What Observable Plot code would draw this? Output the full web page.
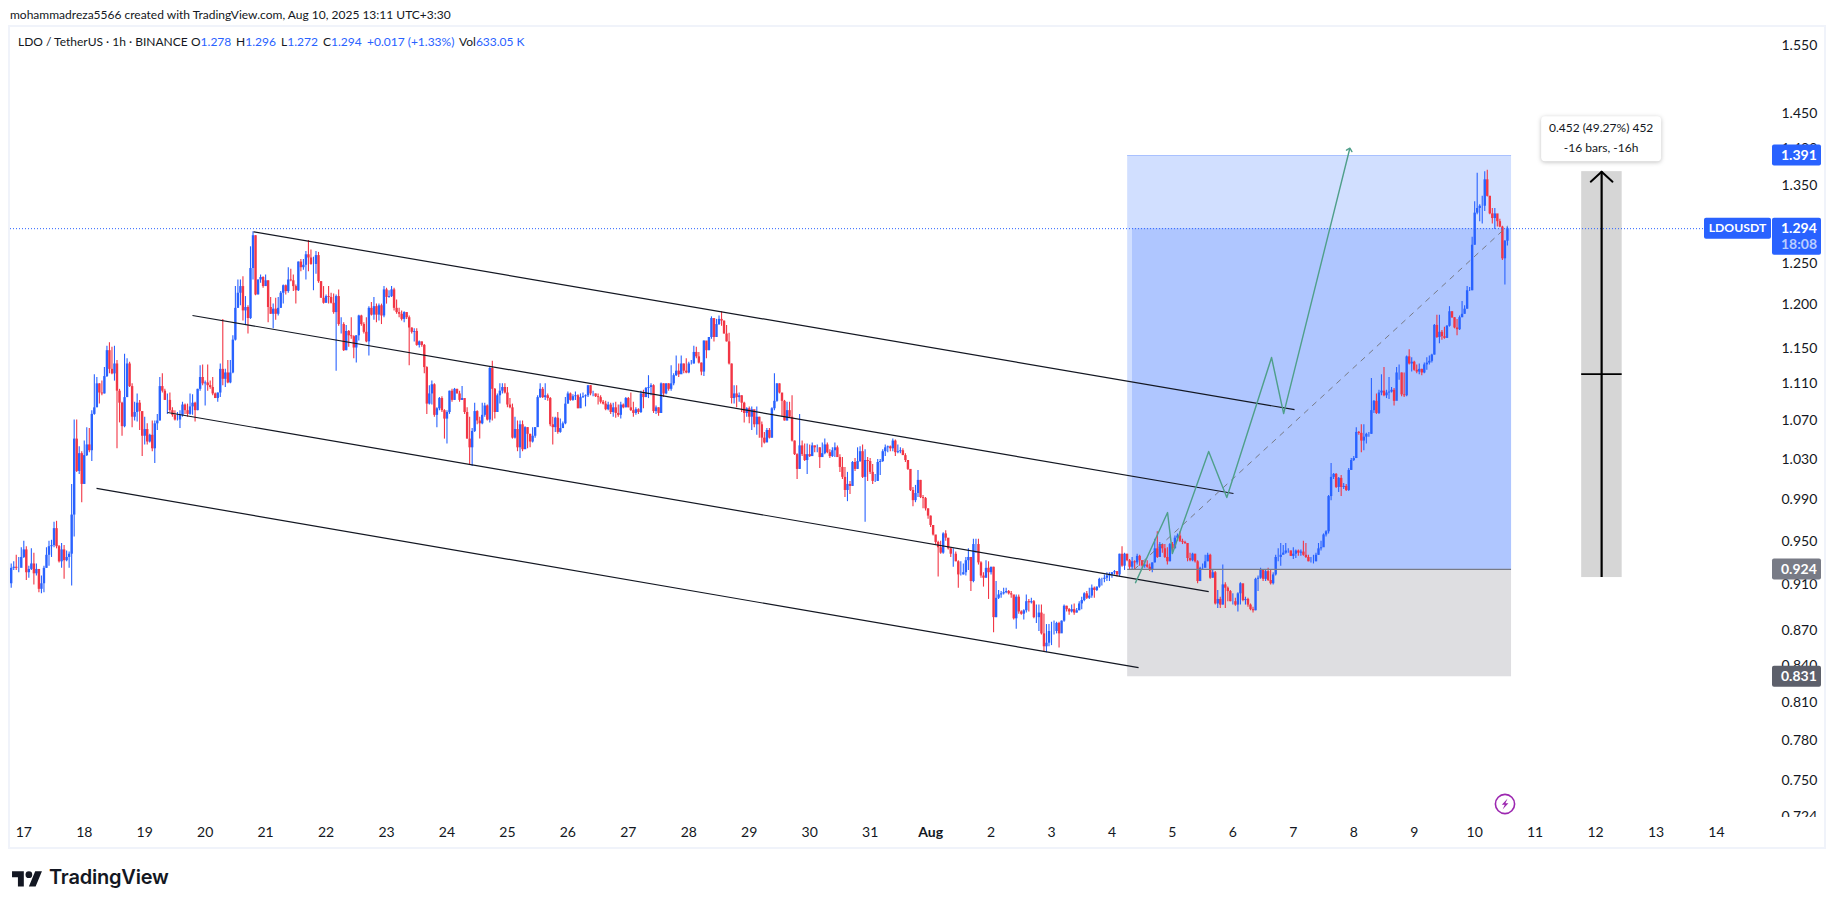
<!DOCTYPE html>
<html><head><meta charset="utf-8">
<script src="https://cdn.jsdelivr.net/npm/d3@7"></script>
<script src="https://cdn.jsdelivr.net/npm/@observablehq/plot@0.6"></script>
<style>
html,body{margin:0;padding:0;background:#fff;overflow:hidden}
#page{position:relative;width:1835px;height:909px;font-family:Lato,"Noto Sans",sans-serif;color:#131722;overflow:hidden}
#pane{position:absolute;left:8px;top:25px;width:1814px;height:820px;border:2px solid #f0f3fa}
#chart{position:absolute;left:0;top:0}
#chart svg{display:block}
.hd{position:absolute;white-space:nowrap}
.lg{position:absolute;top:34px;font-size:12px;white-space:nowrap}
.lg b{font-weight:400;color:#2962ff}
</style></head><body>
<div id="page">
<div id="pane"></div>
<div id="chart"></div>
<div class="hd" style="left:10px;top:7px;font-size:12px">mohammadreza5566 created with TradingView.com, Aug 10, 2025 13:11 UTC+3:30</div>
<div class="lg" style="left:18px">LDO / TetherUS · 1h · BINANCE</div>
<div class="lg" style="left:191px">O<b>1.278</b></div>
<div class="lg" style="left:236px">H<b>1.296</b></div>
<div class="lg" style="left:281px">L<b>1.272</b></div>
<div class="lg" style="left:323px">C<b>1.294</b></div>
<div class="lg" style="left:367px"><b>+0.017 (+1.33%)</b></div>
<div class="lg" style="left:459px">Vol<b>633.05 K</b></div>
<svg style="position:absolute;left:1494px;top:793px" width="22" height="22" viewBox="0 0 22 22"><circle cx="11" cy="11" r="9.6" fill="#fff" stroke="#9c27b0" stroke-width="1.6"/><path d="M13.6 5.6 7.8 11.7h3L8.6 16.4l5.8-6.1h-3z" fill="#9c27b0"/></svg>
<svg style="position:absolute;left:12px;top:867.6px" width="30.4" height="23.6" viewBox="0 0 36 28"><path d="M14 22H7V11H0V4h14v18zM28 22h-8l7.5-18h8L28 22z" fill="#131722"/><circle cx="20" cy="8" r="4" fill="#131722"/></svg>
<div class="hd" style="left:49px;top:865px;font-family:Inter,sans-serif;font-weight:600;font-size:20px;letter-spacing:-.2px">TradingView</div>
</div>
<script>
// Hourly candles, prices in thousandths of USDT, one row per calendar day (Jul 16 … Aug 10)
const firstOpen = 911;
const closes = [
925,926,925,925,935,
942,921,924,929,920,924,906,911,925,937,945,946,962,945,931,942,932,935,938,975,1051,1018,1036,1005,
1034,1045,1039,1077,1084,1110,1100,1099,1118,1147,1126,1121,1132,1102,1089,1064,1095,1132,1107,1074,1079,1089,1080,1054,
1061,1048,1055,1041,1067,1070,1107,1102,1092,1092,1081,1076,1071,1071,1076,1087,1081,1077,1085,1089,1081,1104,1117,1110,
1111,1108,1106,1099,1094,1100,1126,1115,1122,1111,1122,1159,1196,1214,1222,1193,1197,1184,1244,1285,1212,1230,1233,1222,
1229,1197,1189,1195,1189,1196,1214,1223,1216,1230,1229,1222,1217,1252,1245,1248,1261,1257,1249,1249,1260,1228,1208,1202,
1210,1209,1202,1191,1210,1177,1177,1147,1169,1164,1163,1150,1164,1187,1177,1168,1157,1196,1188,1198,1188,1199,1187,1218,
1209,1210,1218,1196,1191,1189,1183,1191,1185,1173,1168,1169,1153,1157,1153,1128,1088,1099,1109,1076,1083,1094,1081,1072,
1079,1102,1092,1104,1099,1092,1094,1079,1051,1042,1059,1080,1070,1067,1076,1086,1071,1127,1104,1079,1097,1102,1106,1100,
1087,1084,1052,1061,1042,1066,1040,1063,1056,1048,1054,1063,1095,1104,1095,1097,1094,1066,1063,1073,1058,1062,1067,1088,
1099,1092,1096,1097,1083,1095,1096,1097,1108,1099,1099,1096,1095,1090,1088,1082,1087,1079,1084,1078,1076,1087,1084,1094,
1084,1081,1078,1082,1079,1099,1095,1105,1106,1108,1080,1084,1078,1110,1099,1110,1104,1110,1119,1124,1120,1132,1124,1122,
1132,1132,1145,1140,1133,1123,1158,1147,1162,1184,1162,1177,1183,1181,1166,1157,1132,1094,1099,1095,1097,1089,1078,1083,
1074,1082,1066,1074,1066,1052,1047,1060,1052,1083,1091,1110,1100,1091,1070,1081,1074,1049,1035,1020,1044,1035,1029,1035,
1033,1044,1042,1042,1032,1036,1045,1037,1033,1039,1042,1032,1022,1012,999,1005,1003,1027,1020,1028,1038,1012,1029,1028,
1017,1008,1008,1027,1028,1038,1042,1043,1041,1049,1037,1038,1039,1034,1029,1020,999,989,996,1009,992,991,981,974,
965,956,949,944,939,957,953,943,938,938,931,919,919,921,932,935,913,947,947,930,918,916,925,921,
926,881,898,901,902,903,904,902,901,880,899,886,884,887,895,894,895,881,881,885,867,856,859,869,
869,869,876,867,878,891,888,886,888,885,887,893,896,902,898,900,907,905,908,915,915,916,918,919,
921,922,919,938,927,938,932,926,931,930,936,932,927,928,926,923,930,943,935,947,943,935,931,947,
943,953,955,950,949,948,934,932,938,931,913,925,925,931,937,916,921,893,897,892,910,907,904,895,
895,892,902,911,896,897,892,888,887,915,916,923,915,922,914,911,919,935,935,937,939,941,941,936,
938,941,939,940,937,935,931,931,931,937,943,944,956,959,993,1012,1015,1002,1011,1002,1003,999,1019,1029,
1031,1058,1057,1049,1053,1056,1056,1081,1091,1078,1100,1102,1097,1100,1101,1103,1091,1122,1122,1098,1097,1140,1132,1134,
1125,1123,1126,1122,1131,1133,1135,1142,1176,1162,1168,1163,1161,1175,1192,1185,1173,1171,1185,1189,1195,1217,1217,1273,
1314,1320,1323,1323,1358,1336,1313,1307,1313,1303,1296,1256,1278,1294];
const highs = [
929,931,937,935,944,
950,945,927,943,939,929,924,918,927,944,950,951,968,969,946,948,946,941,940,1005,1071,1071,1043,1038,
1049,1063,1062,1081,1120,1117,1110,1113,1128,1152,1156,1151,1152,1136,1104,1090,1143,1138,1134,1110,1090,1099,1092,1074,
1074,1067,1056,1070,1070,1077,1117,1121,1104,1099,1100,1084,1081,1079,1081,1090,1088,1088,1099,1098,1090,1104,1130,1131,
1113,1131,1113,1117,1100,1100,1132,1183,1126,1136,1136,1164,1222,1230,1230,1234,1210,1199,1271,1290,1285,1230,1236,1234,
1236,1229,1209,1201,1208,1209,1216,1224,1224,1245,1243,1236,1224,1252,1255,1255,1265,1279,1267,1258,1265,1264,1228,1222,
1212,1222,1214,1213,1212,1218,1185,1179,1176,1170,1185,1164,1164,1188,1188,1179,1185,1198,1203,1209,1201,1201,1201,1222,
1220,1217,1222,1220,1206,1196,1193,1192,1191,1187,1173,1172,1172,1158,1157,1154,1129,1108,1113,1110,1084,1095,1096,1082,
1081,1102,1104,1105,1104,1102,1107,1092,1084,1074,1062,1089,1081,1074,1089,1089,1087,1128,1135,1105,1099,1110,1110,1110,
1106,1094,1088,1074,1070,1070,1070,1064,1063,1056,1063,1063,1097,1110,1106,1110,1099,1095,1074,1074,1079,1072,1069,1095,
1101,1100,1098,1101,1098,1099,1100,1098,1108,1108,1102,1099,1099,1097,1092,1091,1090,1089,1089,1090,1087,1090,1088,1095,
1095,1100,1090,1084,1083,1102,1103,1106,1119,1110,1109,1086,1084,1111,1110,1110,1110,1130,1121,1141,1132,1141,1132,1138,
1134,1136,1152,1151,1145,1133,1158,1152,1162,1186,1181,1183,1187,1192,1181,1176,1167,1132,1108,1108,1100,1097,1090,1084,
1085,1085,1080,1085,1074,1069,1058,1062,1062,1084,1121,1110,1110,1099,1092,1090,1090,1097,1049,1036,1077,1049,1046,1046,
1045,1047,1044,1045,1042,1047,1051,1047,1040,1042,1047,1044,1035,1032,1022,1017,1008,1028,1031,1042,1043,1045,1040,1032,
1031,1025,1015,1030,1030,1040,1045,1044,1044,1051,1050,1045,1042,1041,1036,1029,1020,1002,1004,1019,1009,994,992,981,
974,965,955,950,950,958,960,952,944,943,940,932,931,929,935,943,935,952,952,952,931,921,932,931,
926,926,913,905,904,907,907,905,904,899,901,901,887,888,901,897,898,896,892,892,892,884,875,875,
877,878,877,877,878,892,891,889,892,893,889,895,899,903,904,907,910,908,908,916,916,919,921,921,
921,923,922,938,945,939,938,933,935,932,938,937,932,931,932,929,930,952,959,949,947,947,944,948,
949,955,957,959,952,950,948,939,939,938,932,926,929,937,939,938,923,922,905,899,928,912,908,905,
902,898,903,912,910,899,898,893,890,916,918,925,923,923,925,923,921,937,943,948,946,948,943,941,
944,942,942,942,950,948,937,935,937,939,948,950,957,960,994,1026,1016,1016,1012,1014,1006,1005,1021,1031,
1033,1063,1059,1066,1066,1057,1058,1116,1092,1099,1103,1120,1128,1103,1117,1106,1105,1128,1131,1122,1122,1141,1148,1139,
1135,1131,1132,1126,1133,1139,1141,1143,1177,1188,1188,1170,1174,1176,1198,1192,1185,1183,1187,1204,1199,1222,1221,1283,
1329,1367,1325,1336,1369,1371,1336,1320,1320,1310,1306,1297,1279,1296];
const lows = [
907,923,923,921,928,
934,914,916,923,910,918,903,902,903,925,927,935,944,943,930,925,915,931,925,909,954,1017,1015,987,
1005,1033,1037,1028,1076,1089,1088,1097,1099,1117,1121,1120,1113,1041,1068,1054,1063,1095,1106,1063,1070,1069,1060,1033,
1045,1045,1047,1038,1026,1060,1070,1100,1092,1077,1079,1074,1070,1070,1062,1074,1077,1074,1076,1076,1069,1081,1102,1108,
1086,1102,1104,1097,1094,1090,1095,1108,1106,1110,1110,1121,1158,1196,1199,1181,1177,1166,1183,1230,1211,1212,1226,1220,
1222,1179,1189,1172,1182,1187,1196,1201,1212,1214,1228,1216,1201,1216,1240,1242,1230,1240,1248,1217,1237,1226,1208,1201,
1202,1201,1201,1189,1124,1175,1166,1146,1147,1151,1160,1138,1133,1158,1175,1166,1156,1141,1187,1182,1179,1181,1177,1185,
1201,1208,1209,1193,1189,1185,1181,1179,1183,1130,1166,1157,1152,1150,1151,1121,1077,1087,1087,1074,1063,1081,1079,1051,
1046,1077,1090,1092,1099,1090,1092,1077,1051,1025,1023,1058,1066,1051,1066,1074,1070,1068,1070,1072,1079,1088,1099,1099,
1084,1083,1051,1051,1038,1031,1038,1042,1041,1042,1047,1052,1066,1094,1094,1092,1091,1064,1045,1058,1056,1057,1063,1066,
1088,1091,1091,1092,1083,1084,1094,1085,1095,1097,1096,1095,1087,1088,1087,1081,1081,1077,1074,1073,1074,1072,1083,1084,
1084,1080,1074,1076,1077,1078,1083,1095,1094,1097,1078,1077,1075,1078,1095,1098,1102,1102,1108,1118,1117,1121,1121,1121,
1121,1131,1132,1138,1132,1119,1118,1138,1147,1160,1157,1162,1176,1175,1166,1157,1131,1088,1088,1084,1090,1079,1068,1074,
1067,1060,1063,1055,1052,1042,1046,1051,1051,1052,1081,1090,1099,1074,1070,1070,1073,1048,1034,1010,1020,1033,1028,1015,
1032,1033,1037,1037,1021,1032,1035,1036,1031,1032,1032,1032,1017,1010,992,988,995,1003,1018,1020,1027,1011,968,1008,
1015,1005,1007,1008,1014,1027,1033,1037,1038,1038,1033,1036,1036,1034,1027,1019,998,983,987,992,991,981,979,971,
963,955,947,917,938,938,950,942,935,926,931,907,918,919,918,923,904,912,939,928,916,908,916,897,
919,868,881,897,898,901,902,901,898,879,871,884,883,879,885,886,893,880,876,869,866,852,851,856,
857,866,867,855,868,877,886,883,885,883,885,887,888,895,897,897,898,898,904,907,909,912,913,913,
916,919,917,917,926,923,931,923,923,923,928,927,925,925,925,922,921,930,934,936,939,934,928,931,
938,943,950,949,947,947,931,931,931,930,911,915,923,927,931,915,916,892,889,889,892,889,895,895,
892,891,886,892,895,892,890,887,885,887,904,915,913,913,913,910,910,918,931,927,938,938,939,936,
933,934,936,936,936,934,931,930,929,931,937,941,948,954,957,989,1010,1001,997,993,1000,998,998,1019,
1028,1031,1055,1037,1039,1046,1053,1056,1078,1077,1077,1097,1096,1094,1093,1100,1086,1095,1114,1096,1095,1096,1131,1123,
1124,1121,1120,1119,1121,1125,1131,1133,1142,1161,1155,1159,1160,1161,1174,1184,1172,1164,1170,1185,1189,1195,1216,1217,
1273,1312,1303,1300,1316,1335,1312,1300,1293,1296,1295,1254,1224,1272];

// Axes
const yTicks = [1.55,1.45,1.4,1.35,1.3,1.25,1.2,1.15,1.11,1.07,1.03,0.99,0.95,0.91,0.87,0.84,0.81,0.78,0.75,0.724];
const dayLabels = ["17","18","19","20","21","22","23","24","25","26","27","28","29","30","31","Aug","2","3","4","5","6","7","8","9","10","11","12","13","14"];

// Drawings: x in days since Jul 17, y in USDT
const chanDayA = [3.80,2.79,2.377,1.203], chanPriceA = [1.290,1.1876,1.079,1.001];
const chanDayB = [21.02,20.01,19.60,18.44], chanPriceB = [1.082,0.996,0.904,0.8385];
const greenDays = [18.39,18.92,19.00,19.60,19.90,20.64,20.84,21.93];
const greenPrices = [0.912,0.9774,0.9386,1.0382,0.9921,1.1393,1.0779,1.3993];
const dashDays = [18.37,24.54], dashPrices = [0.924,1.297];
const lastPrice = 1.294, target = 1.391, entry = 0.924, stop = 0.831;
const boxDays = [18.26,18.34,24.61];
const measureDays = [25.77,26.1,26.44], measureLow = 0.9166, measureHigh = 1.369, measureMid = 1.1207;
const priceTags = [{v:target,fill:"#2962ff",t:"1.391"},{v:entry,fill:"#787b86",t:"0.924"},{v:stop,fill:"#5d606b",t:"0.831"}];

const UP = "#2962ff", DOWN = "#f23645", INK = "#131722";
const FONT = 'Lato,"Noto Sans",sans-serif';
const bars = closes.map((c,i)=>{
  const o = i ? closes[i-1] : firstOpen;
  return {d:(i-5)/24, o:o/1000, c:c/1000, h:highs[i]/1000, l:lows[i]/1000, up:c>=o};
});
const chan = d3.range(chanDayA.length);

function overlay(index, s, values, dim){
  const g = d3.create("svg:g").attr("font-family",FONT);
  const axL = dim.width - dim.marginRight;
  // the price scale ends at the bottom of the pane: the last tick is cut off
  g.append("rect").attr("x",axL+1).attr("y",dim.height-dim.marginBottom).attr("width",52).attr("height",12).attr("fill","#fff");
  const tag=(yc,h,fill)=>g.append("rect").attr("x",axL+1).attr("y",yc-h/2).attr("width",49).attr("height",h).attr("rx",2).attr("fill",fill);
  const txt=(x,y,t,fill,size,anchor,w)=>g.append("text").attr("x",x).attr("y",y).attr("dy","0.35em").attr("text-anchor",anchor||"start").attr("fill",fill).attr("font-size",size).attr("font-weight",w||400).text(t);
  for(const p of priceTags){ const y=s.y(p.v); tag(y,21,p.fill); txt(axL+10,y,p.t,"#fff",14,"start",700); }
  const ly=s.y(lastPrice);
  g.append("rect").attr("x",axL-67).attr("y",ly-10.5).attr("width",67).attr("height",21).attr("rx",2).attr("fill",UP);
  txt(axL-33.5,ly,"LDOUSDT","#fff",12.2,"middle",700);
  g.append("rect").attr("x",axL+1).attr("y",ly-10.5).attr("width",49).attr("height",37).attr("rx",2).attr("fill",UP);
  txt(axL+10,ly,"1.294","#fff",14,"start",700);
  txt(axL+10,ly+16,"18:08","#b9cdff",14,"start",700);
  // measure label
  const mx=s.x(measureDays[1]), my=s.y(measureHigh);
  g.append("rect").attr("x",mx-60).attr("y",my-55).attr("width",120).attr("height",45).attr("rx",4).attr("fill","#fff").style("filter","drop-shadow(0 1px 2px rgba(0,0,0,.25))");
  txt(mx,my-43,"0.452 (49.27%) 452",INK,12,"middle");
  txt(mx,my-23,"-16 bars, -16h",INK,12,"middle");
  return g.node();
}

const plot = Plot.plot({
  width:1835, height:909,
  marginLeft:10, marginRight:64, marginTop:27, marginBottom:92,
  style:{background:"transparent",fontFamily:FONT,fontSize:"14px",color:INK},
  x:{type:"linear",domain:[-0.22,28.91]},
  y:{type:"log",domain:[0.7231,1.5786]},
  marks:[
    // long-position box
    Plot.rect([0],{x1:boxDays[0],x2:boxDays[2],y1:entry,y2:target,fill:"#d1dfff"}),
    Plot.rect([0],{x1:boxDays[1],x2:boxDays[2],y1:entry,y2:lastPrice,fill:"#afc6ff"}),
    Plot.rect([0],{x1:boxDays[0],x2:boxDays[2],y1:stop,y2:entry,fill:"#dedee1"}),
    Plot.ruleY([target],{x1:boxDays[0],x2:boxDays[2],stroke:"#a9c1ff",strokeWidth:1}),
    // measure
    Plot.rect([0],{x1:measureDays[0],x2:measureDays[2],y1:measureLow,y2:measureHigh,fill:"#d6d6d6"}),
    // candles
    Plot.ruleX(bars,{filter:d=>d.up,x:"d",y1:"l",y2:"h",stroke:UP,strokeWidth:1.1}),
    Plot.ruleX(bars,{filter:d=>!d.up,x:"d",y1:"l",y2:"h",stroke:DOWN,strokeWidth:1.1}),
    Plot.ruleX(bars,{filter:d=>d.up,x:"d",y1:"o",y2:"c",stroke:UP,strokeWidth:2.4}),
    Plot.ruleX(bars,{filter:d=>!d.up,x:"d",y1:"o",y2:"c",stroke:DOWN,strokeWidth:2.4}),
    // entry line, last price
    Plot.ruleY([entry],{x1:boxDays[0],x2:boxDays[2],stroke:"#787b86",strokeWidth:1.2}),
    Plot.ruleY([lastPrice],{x1:-0.22,x2:27.8,stroke:UP,strokeWidth:1,strokeDasharray:"1 2"}),
    // channels
    Plot.link(chan,{x1:i=>chanDayA[i],y1:i=>chanPriceA[i],x2:i=>chanDayB[i],y2:i=>chanPriceB[i],stroke:INK,strokeWidth:1.2}),
    // projected path and dashed trend
    Plot.line(dashDays.map((d,i)=>[d,dashPrices[i]]),{stroke:"#787b86",strokeWidth:1,strokeDasharray:"5 6"}),
    Plot.line(greenDays.map((d,i)=>[d,greenPrices[i]]),{stroke:"#4f9f8a",strokeWidth:1.4,markerEnd:"arrow"}),
    // measure arrow
    Plot.ruleX([measureDays[1]],{y1:measureLow,y2:measureHigh,stroke:"#000",strokeWidth:2.2}),
    Plot.line([[25.92,1.3555],[measureDays[1],measureHigh],[26.28,1.3555]],{stroke:"#000",strokeWidth:2}),
    Plot.ruleY([measureMid],{x1:measureDays[0],x2:measureDays[2],stroke:"#000",strokeWidth:1.6}),
    // axes
    Plot.axisY(yTicks,{anchor:"right",tickSize:0,tickPadding:10,tickFormat:d3.format(".3f"),label:null,fill:"#131722",fontSize:14}),
    Plot.axisX(d3.range(dayLabels.length).filter(d=>dayLabels[d]!=="Aug"),{anchor:"bottom",tickSize:0,tickPadding:10,tickFormat:d=>dayLabels[d],label:null,fill:"#131722",fontSize:14}),
    Plot.axisX([dayLabels.indexOf("Aug")],{anchor:"bottom",tickSize:0,tickPadding:10,tickFormat:d=>dayLabels[d],label:null,fill:"#131722",fontSize:14,fontWeight:700}),
    overlay
  ]
});
document.getElementById("chart").appendChild(plot);
</script>
</body></html>
